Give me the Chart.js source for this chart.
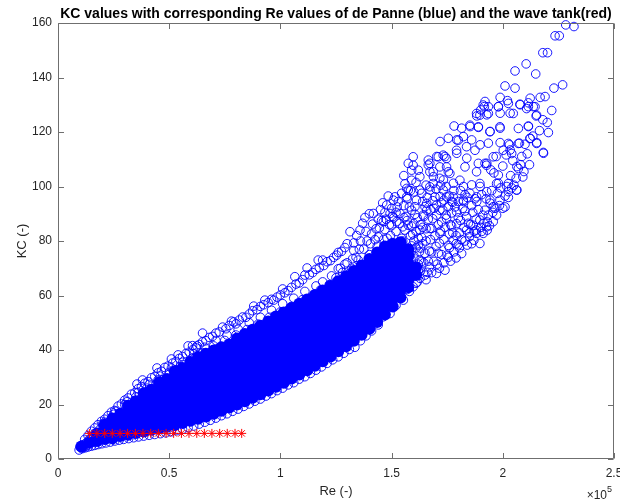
<!DOCTYPE html>
<html>
<head>
<meta charset="utf-8">
<script src="https://cdn.jsdelivr.net/npm/chart.js@4.4.1/dist/chart.umd.min.js"></script>
<style>
html,body{margin:0;padding:0;background:#fff;}
#wrap{width:620px;height:501px;}
</style>
</head>
<body>
<div id="wrap"><canvas id="c" width="620" height="501"></canvas></div>
<script>
// ---- Data (Re in units of 1e5, KC dimensionless) ----
const xTickValues = [0, 0.5, 1, 1.5, 2, 2.5];
const xTickLabels = ['0', '0.5', '1', '1.5', '2', '2.5'];
const yTickValues = [0, 20, 40, 60, 80, 100, 120, 140, 160];
const yTickLabels = ['0', '20', '40', '60', '80', '100', '120', '140', '160'];

// wave tank (red stars)
const tankRe = [0.141, 0.175, 0.210, 0.244, 0.279, 0.313, 0.348, 0.382, 0.417, 0.451, 0.486,
                0.520, 0.555, 0.589, 0.624, 0.658, 0.692, 0.727, 0.761, 0.796, 0.826];
const tankKC = [9.4, 9.4, 9.4, 9.4, 9.4, 9.4, 9.4, 9.4, 9.4, 9.4, 9.4,
                9.4, 9.4, 9.4, 9.4, 9.4, 9.4, 9.4, 9.4, 9.4, 9.4];

// de Panne: dense (solid-looking) core of the cloud, per Re column: [Re, KC, KC, ...]
const panneCore = [
  [0.105, 4.6],
  [0.14, 6.1],
  [0.175, 6.6, 9.4],
  [0.21, 7.3, 10.6, 12.6],
  [0.245, 7.6, 10.2, 12.8, 14.9],
  [0.28, 8.4, 11.1, 13.9, 16.6],
  [0.315, 8.9, 11.9, 14.6, 17.2, 19.5],
  [0.35, 9.5, 12.4, 15.3, 18.2, 21.2],
  [0.385, 10.1, 13.0, 15.9, 18.8, 21.6, 24.0],
  [0.42, 10.7, 13.6, 16.6, 19.6, 22.5, 25.4],
  [0.455, 11.2, 14.2, 17.1, 20.1, 23.0, 25.9, 28.1],
  [0.49, 11.8, 14.8, 17.8, 20.8, 23.7, 26.6, 29.4],
  [0.525, 12.5, 15.4, 18.4, 21.4, 24.3, 27.3, 30.2, 32.2],
  [0.56, 13.2, 16.1, 19.1, 22.1, 25.0, 28.0, 30.9, 33.4],
  [0.595, 14.0, 17.0, 19.9, 22.9, 25.8, 28.8, 31.7, 34.4, 35.6],
  [0.63, 14.8, 17.8, 20.7, 23.7, 26.6, 29.6, 32.5, 35.3, 37.4],
  [0.665, 15.6, 18.6, 21.6, 24.5, 27.5, 30.4, 33.4, 36.2, 38.6],
  [0.70, 16.6, 19.6, 22.5, 25.5, 28.4, 31.4, 34.3, 37.2, 39.8],
  [0.735, 17.7, 20.7, 23.6, 26.5, 29.5, 32.4, 35.4, 38.3, 41.0],
  [0.77, 18.9, 21.8, 24.7, 27.7, 30.6, 33.6, 36.5, 39.4, 42.0],
  [0.805, 20.0, 23.0, 25.9, 28.8, 31.8, 34.7, 37.7, 40.6, 43.2, 44.2],
  [0.84, 21.2, 24.2, 27.1, 30.0, 33.0, 35.9, 38.9, 41.8, 44.5, 45.9],
  [0.875, 22.5, 25.4, 28.4, 31.3, 34.2, 37.2, 40.1, 43.0, 45.8, 47.4],
  [0.91, 23.8, 26.7, 29.6, 32.6, 35.5, 38.4, 41.4, 44.3, 47.0, 48.9],
  [0.945, 25.1, 28.0, 31.0, 33.9, 36.9, 39.8, 42.7, 45.6, 48.4, 50.5],
  [0.98, 26.5, 29.4, 32.4, 35.3, 38.3, 41.2, 44.1, 47.0, 49.8, 52.3],
  [1.015, 28.0, 30.9, 33.9, 36.8, 39.7, 42.7, 45.6, 48.5, 51.3, 53.8],
  [1.05, 29.5, 32.4, 35.4, 38.3, 41.2, 44.2, 47.1, 50.0, 52.9, 55.4],
  [1.085, 31.0, 33.9, 36.9, 39.8, 42.8, 45.7, 48.6, 51.6, 54.5, 57.0],
  [1.12, 32.6, 35.5, 38.5, 41.4, 44.4, 47.3, 50.2, 53.2, 56.1, 58.5],
  [1.155, 34.2, 37.1, 40.1, 43.0, 46.0, 48.9, 51.8, 54.8, 57.7, 60.2],
  [1.19, 35.9, 38.8, 41.8, 44.7, 47.7, 50.6, 53.5, 56.5, 59.4, 61.8],
  [1.225, 37.6, 40.6, 43.5, 46.4, 49.4, 52.3, 55.3, 58.2, 61.1, 63.5],
  [1.26, 39.5, 42.4, 45.4, 48.3, 51.3, 54.2, 57.1, 60.1, 63.0, 65.2],
  [1.295, 41.4, 44.4, 47.3, 50.3, 53.2, 56.1, 59.1, 62.0, 64.9, 67.1],
  [1.33, 43.4, 46.4, 49.3, 52.3, 55.2, 58.1, 61.1, 64.0, 66.9, 69.0],
  [1.365, 45.6, 48.5, 51.5, 54.4, 57.4, 60.3, 63.2, 66.2, 69.0, 71.0],
  [1.40, 47.8, 50.8, 53.7, 56.7, 59.6, 62.6, 65.5, 68.4, 71.2, 73.4],
  [1.435, 50.3, 53.3, 56.2, 59.2, 62.1, 65.0, 68.0, 70.9, 73.6, 75.8],
  [1.47, 53.0, 56.0, 58.9, 61.9, 64.8, 67.7, 70.7, 73.6, 76.3, 78.0],
  [1.505, 56.0, 58.9, 61.9, 64.8, 67.8, 70.7, 73.6, 76.5, 79.0],
  [1.54, 59.3, 62.2, 65.2, 68.1, 71.0, 74.0, 76.9, 79.5],
  [1.575, 63.0, 65.9, 68.9, 71.8, 74.7, 77.0],
  [1.61, 67.5, 70.4]
];

// de Panne: individual circles along the lower edge of the cloud [Re, KC]
const panneLower = [
  [0.095,3.3],[0.108,3.8],[0.122,4.1],[0.135,4.4],[0.15,4.7],[0.165,5.0],[0.18,5.3],[0.197,5.6],
  [0.215,5.9],[0.235,6.2],[0.255,6.6],[0.275,6.9],[0.295,7.2],[0.318,7.5],[0.34,7.8],[0.362,8.1],
  [0.385,8.4],[0.41,8.7],[0.435,9.0],[0.46,9.3],[0.485,9.6],[0.51,10.0],[0.535,10.4],[0.56,10.9],
  [0.585,11.5],[0.61,12.1],[0.635,12.8],[0.66,13.5],[0.685,14.2],[0.71,15.0],[0.735,15.9],[0.76,16.6],
  [0.785,17.5],[0.81,18.3],[0.835,19.3],[0.86,20.2],[0.885,21.2],[0.91,22.0],[0.935,23.1],[0.96,24.0],
  [0.985,25.1],[1.01,26.0],[1.035,27.2],[1.06,28.0],[1.085,29.3],[1.11,30.2],[1.135,31.4],[1.16,32.6],
  [1.185,33.8],[1.21,35.1],[1.235,36.4],[1.26,37.5],[1.285,38.8],[1.31,40.2],[1.335,41.0],[1.36,43.4],
  [1.385,45.2],[1.41,47.0],[1.44,49.2],[1.463,52.2],[1.493,53.4],[1.52,56.4],[1.553,58.3],[1.58,61.5],
  [1.597,63.2],[1.628,66.3],[1.655,65.8],[1.68,68.4],[1.702,68.1],[1.74,69.3],[1.765,72.6],[1.79,73.8],
  [1.815,75.4],[1.84,78.5],[1.87,80.3],[1.897,79.1],[1.912,82.8],[1.94,85.6],[1.957,87.1],[1.972,89.5],
  [2.0,92.0],[2.025,96.0],[2.062,98.7],[2.09,103.5],[2.12,108.0],[2.152,115.8],[2.182,112.5],[2.205,119.8],
  [0.1,4.5],[0.11,5.2],[0.115,4.2],[0.125,5.8],[0.13,4.9],[0.14,7.0],[0.145,5.6],[0.155,8.2],
  [0.16,6.2],[0.17,7.5],[0.175,9.5],[0.185,6.8],[0.19,11.0],[0.2,8.9],[0.205,7.2],[0.215,12.2],
  [0.225,9.8],[0.23,13.6],[0.24,7.6],[0.25,11.5],[0.255,15.0],[0.265,13.2],[0.27,8.3],[0.28,16.5],
  [0.29,10.8],[0.3,14.6]
];

// de Panne: individual circles along the upper edge of the cloud [Re, KC]
const panneUpper = [
  [0.12,7.2],[0.135,8.6],[0.15,10.2],[0.165,11.4],[0.18,12.6],[0.195,13.8],[0.21,14.6],[0.225,15.9],
  [0.24,17.2],[0.255,17.8],[0.27,19.4],[0.285,20.2],[0.3,21.6],[0.315,22.4],[0.33,23.8],[0.345,24.3],
  [0.355,27.5],[0.36,25.8],[0.38,29.0],[0.375,26.6],[0.39,27.8],[0.405,28.4],[0.42,29.8],[0.435,30.3],
  [0.445,33.4],[0.45,31.6],[0.465,32.2],[0.48,33.6],[0.495,34.1],[0.51,36.7],[0.515,35.2],[0.53,35.8],
  [0.54,38.2],[0.545,36.9],[0.56,37.6],[0.575,38.7],[0.585,41.5],[0.59,39.2],[0.605,41.6],[0.607,40.2],
  [0.625,41.5],[0.62,40.8],[0.635,42.0],[0.65,46.2],[0.65,43.0],[0.665,43.4],[0.68,44.6],[0.695,45.0],
  [0.71,46.2],[0.725,46.6],[0.74,48.4],[0.755,47.8],[0.77,49.0],[0.78,50.6],[0.79,50.3],[0.8,49.6],
  [0.815,51.0],[0.83,52.1],[0.845,52.0],[0.86,53.2],[0.875,54.4],[0.88,56.1],[0.895,54.8],[0.91,56.0],
  [0.93,58.3],[0.925,56.6],[0.945,57.4],[0.96,58.6],[0.97,58.3],[0.985,59.4],[1.0,60.2],[1.01,62.4],
  [1.02,61.0],[1.035,61.8],[1.05,63.0],[1.065,66.9],[1.07,64.2],[1.085,64.6],[1.1,65.8],[1.11,67.5],
  [1.12,70.1],[1.13,67.6],[1.145,68.4],[1.16,69.6],[1.17,73.0],[1.19,73.0],[1.175,70.2],[1.195,71.0],
  [1.21,72.4],[1.225,72.8],[1.24,74.0],[1.253,74.8],[1.26,75.8],[1.275,76.2],[1.29,77.6],[1.3,79.0],
  [1.313,83.4],[1.33,79.3],[1.343,82.0],[1.358,84.0],[1.37,86.5],[1.38,88.6],[1.4,90.0],[1.418,90.1],
  [1.44,88.0],[1.463,87.1],[1.478,93.2],[1.493,90.1],[1.508,95.0],[1.515,96.2],[1.538,90.1],
  [1.40,75.0],[1.405,79.0],[1.41,82.6],[1.415,86.2],[1.43,74.5],[1.435,78.0],[1.44,81.5],[1.445,84.8],
  [1.46,77.0],[1.465,80.6],[1.47,84.2],[1.475,88.0],[1.49,78.4],[1.495,82.0],[1.5,85.6],[1.505,89.0],
  [1.35,73.0],[1.355,77.0],[1.36,80.0],[1.32,70.0],[1.325,73.5],[1.33,76.5],[1.28,68.5],[1.29,71.5],
  [1.25,66.5],[1.26,69.8],[1.22,64.0],[1.23,67.2],[1.18,62.0],[1.19,65.0],[1.15,60.0],[1.16,63.5],
  [1.1,58.5],[1.11,61.5],[1.05,56.0],[1.06,59.0],[1.0,54.0],[1.01,57.0],[0.95,52.0],[0.96,54.6],
  [0.9,49.5],[0.91,52.0],[0.85,47.5],[0.86,50.0],[0.8,45.5],[0.81,47.6],[0.75,43.5],[0.76,45.5],
  [0.7,41.5],[0.71,43.5],[0.65,39.0],[0.66,41.0],[0.6,36.8],[0.61,38.6],[0.55,34.0],[0.56,35.5],
  [0.5,31.8],[0.51,33.4],[0.45,29.0],[0.46,30.4],[0.4,26.0],[0.41,27.4],[0.35,22.8],[0.36,24.4],
  [0.3,20.0],[0.31,21.0],[0.25,16.4],[0.26,17.5],[0.2,12.8],[0.21,13.5],
  [1.52,83.5],[1.535,86.5],[1.55,80.0],[1.56,84.0],[1.57,87.5],[1.585,82.0],[1.59,85.5],[1.6,80.0],
  [1.61,83.5],[1.62,81.0],[1.625,76.0],[1.635,72.5],[1.64,79.0],[1.61,77.5],[1.6,74.5],[1.62,71.5],
  [1.595,70.5],[1.65,75.5],[1.655,84.5],[1.48,81.0],[1.49,86.0],[1.51,88.5],[1.525,92.5],[1.47,90.5],
  [1.455,87.5],[1.43,84.5],[1.425,80.5],[1.39,80.0],[1.385,83.5],[1.375,77.0],[1.34,74.0],[1.3,72.0],
  [1.27,70.0],[1.57,95.5],[1.585,98.5],[1.56,101.0],[1.555,104.0],[1.575,108.5]
];

// de Panne: the spread-out part of the cloud at high Re [Re, KC]
const panneSpread = [
  [1.52,60.5],[1.525,64.8],[1.53,69.0],[1.535,73.2],[1.54,77.5],[1.545,81.0],[1.55,85.2],[1.556,88.6],
  [1.57,62.2],[1.575,66.0],[1.58,70.3],[1.585,74.6],[1.59,78.2],[1.595,82.5],[1.60,86.4],[1.605,89.8],
  [1.615,64.9],[1.62,69.2],[1.625,73.0],[1.63,77.4],[1.635,81.3],[1.64,85.0],[1.645,89.0],[1.65,92.6],
  [1.66,68.5],[1.665,72.6],[1.67,76.3],[1.675,80.5],[1.68,84.6],[1.685,88.2],[1.69,92.0],
  [1.705,71.5],[1.71,75.5],[1.715,79.2],[1.72,83.6],[1.725,87.0],[1.73,91.4],[1.735,95.0],
  [1.75,74.8],[1.755,78.4],[1.76,82.6],[1.765,86.0],[1.77,90.3],[1.775,94.2],[1.78,98.5],
  [1.80,78.6],[1.805,83.0],[1.81,87.5],[1.82,92.0],[1.83,97.0],
  [1.85,81.6],[1.855,86.0],[1.865,90.5],[1.875,95.5],[1.9,85.0],[1.91,89.5],[1.93,84.0],
  [1.45,91.5],[1.46,94.0],[1.485,96.5],[1.5,92.0],[1.52,90.5],[1.53,94.5],[1.545,97.5],[1.555,93.0],
  [1.565,89.0],[1.58,92.5],[1.6,98.0],[1.61,101.5],[1.62,106.0],[1.615,88.5],[1.64,94.5],[1.655,100.5],
  [1.66,96.0],[1.675,91.5],[1.685,94.8],[1.7,99.0],[1.71,86.0],[1.72,100.5],[1.725,94.0],[1.74,85.0],
  [1.745,100.0],[1.76,96.5],[1.77,85.5],[1.785,92.5],[1.79,82.0],[1.8,88.5],[1.81,98.5],[1.815,80.5],
  [1.83,91.0],[1.845,86.5],[1.86,93.0],[1.86,79.0],[1.87,83.5],[1.89,91.5],[1.905,97.0],[1.915,86.5],
  [1.925,95.5],[1.935,89.5],[1.95,98.5],[1.96,105.0],[1.965,92.0],[1.99,99.5],[2.0,107.5],[2.01,96.5],
  [2.035,104.0],[2.045,109.5],[2.05,100.5],[2.085,111.0],[2.1,115.5],[2.095,105.5],[1.62,78.5],[1.63,86.0],
  [1.645,72.0],[1.655,80.0],[1.665,88.0],[1.68,76.0],[1.695,82.0],[1.7,78.0],[1.725,75.0],[1.735,80.5],
  [1.745,89.5],[1.76,77.5],[1.775,83.0],[1.79,79.0],[1.8,94.5],[1.825,85.0],[1.84,96.0],[1.88,88.0],
  [1.6,70.0],[1.59,66.5],[1.61,64.5],[1.63,69.0],[1.65,67.5],[1.67,70.5],[1.69,72.5],[1.715,70.0],
  [1.735,72.0],[1.755,74.0],[1.78,76.0],[1.805,77.5],[1.83,80.0],[1.85,83.0],[1.88,84.0],[1.905,83.5],
  [1.93,87.0],[1.955,90.5],[1.985,93.0],[2.01,92.5],[2.04,99.5],[2.06,103.0],[2.08,108.0],[2.11,112.0],
  [2.135,118.5],[2.165,120.5],[2.18,124.5],[2.2,123.5],
  [2.283,159.3],[2.32,158.7],[2.235,155.3],[2.254,155.3],[2.18,149.1],[2.201,149.1],[2.105,145.0],[2.055,142.4],
  [2.148,141.3],[2.269,137.3],[2.23,136.1],[2.01,136.9],[2.055,136.1],[1.988,132.7],[2.021,131.5],[1.92,131.2],
  [1.917,129.3],[1.935,129.3],[1.901,128.1],[1.928,126.3],[1.883,125.9],[2.123,132.4],[2.168,132.7],[2.19,133.0],
  [2.115,129.3],[2.145,129.3],[2.22,127.9],[2.15,125.9],[2.078,130.0],[2.033,126.9],[1.98,129.3],[1.988,126.9],
  [2.025,130.5],[2.077,130.2],[2.115,130.7],[2.137,129.3],[2.152,126.2],[2.107,128.6],[2.047,126.8],[1.882,126.8],
  [1.897,126.2],[1.912,129.9],[1.935,126.8],
  [1.781,122.2],[1.815,121.4],[1.853,122.0],[1.89,121.7],[1.943,120.2],[1.988,121.4],[2.07,121.3],[2.115,122.0],
  [2.123,117.7],[2.153,116.1],[2.183,112.2],[2.075,115.9],[2.03,115.3],[2.015,111.6],[2.033,113.4],[1.97,111.0],
  [1.988,116.1],[1.935,115.9],[1.898,115.3],[1.86,117.1],[1.823,118.3],[1.793,117.1],[1.755,117.7],[1.718,116.5],
  [1.74,111.0],[1.703,111.0],[1.665,107.9],[1.793,112.2],[1.838,110.4],[1.89,108.5],[1.928,108.5],[1.946,106.1],
  [2.063,107.3],[1.98,101.2],[2.018,100.0],[2.063,98.7],[2.025,98.1],[1.976,97.5],[1.928,98.1],[1.898,100.0],
  [1.86,100.6],[1.823,100.0],[1.778,101.2],[1.733,102.4],[1.688,103.6],[1.673,98.7],[1.718,96.3],[1.77,94.5],
  [1.823,94.5],[1.883,94.5],[1.943,93.9],
  [2.002,113.3],[1.957,110.9],[1.92,108.5],[1.875,113.3],[1.837,114.6],[1.8,117.0],[1.792,113.3],[1.747,110.3],
  [1.71,110.9],[1.672,108.5],[1.597,110.9],[1.597,107.8],[1.59,106.0],[1.83,107.2],[1.882,105.4],[1.927,107.8],
  [1.98,104.2],[2.07,106.6],[2.025,101.1],[1.972,101.1],[1.897,101.1],[1.852,97.5],[1.807,102.3],[1.762,104.8],
  [1.717,103.0],[1.672,105.4],[1.627,103.6],[1.575,98.7],[1.627,98.7],[1.687,101.1],[1.732,98.7],[1.777,96.2],
  [1.822,95.0],[1.882,96.2],[1.942,95.0],[1.987,95.0],[1.957,92.6],[1.92,91.3],[1.897,87.7],[1.927,85.2],
  [1.867,85.8],[1.837,88.9],[1.792,90.7],[1.755,92.6],[1.702,93.2],[1.658,93.8],[1.612,95.0],[1.568,96.2],
  [1.59,91.3],[1.642,89.5],[1.702,89.5],[1.747,88.3],[1.792,86.4],[1.837,84.0],[1.882,82.8],
  [1.777,80.3],[1.717,82.8],[1.672,84.6],[1.627,84.0],[1.575,85.8],[1.523,87.1],
  [1.665,109.7],[1.732,111.5],[1.717,107.2],[1.747,107.2],[1.755,105.4],[1.687,105.4],[1.568,99.3],
  [1.672,99.9],[1.635,97.5],[1.695,96.2],[1.747,96.2],[1.605,92.6],[1.658,91.3],[1.717,91.3],[1.59,102.3],
  [1.852,122.5],[1.89,121.9],[1.942,120.1],[1.987,121.9],[2.115,122.2],[2.122,117.6],[2.07,115.8],[2.025,115.8],
  [2.04,112.1],[1.98,129.3]
];

// ---- build the tables Chart.js needs ----
const tankData = tankRe.map((r, i) => ({ x: r, y: tankKC[i] }));
const coreData = [];
panneCore.forEach(col => { for (let k = 1; k < col.length; k++) coreData.push({ x: col[0], y: col[k] }); });
const ringData = panneLower.concat(panneUpper, panneSpread).map(p => ({ x: p[0], y: p[1] }));

const FONT = '"Liberation Sans", Arial, Helvetica, sans-serif';
const TXT = '#262626';
const AX = '#6f6f6f';

const framePlugin = {
  id: 'frame',
  afterDraw(chart) {
    const { ctx, chartArea: a, scales } = chart;
    const xs = scales.x, ys = scales.y;
    const L = Math.round(a.left) + 0.5, R = Math.round(a.right) - 0.5;
    const T = Math.round(a.top) + 0.5, B = Math.round(a.bottom) - 0.5;
    ctx.save();
    ctx.strokeStyle = AX;
    ctx.lineWidth = 1;
    ctx.beginPath();
    ctx.rect(L, T, R - L, B - T);
    const tl = 5.5;
    xTickValues.forEach(v => {
      const px = Math.round(xs.getPixelForValue(v)) + 0.5;
      ctx.moveTo(px, B); ctx.lineTo(px, B - tl);
      ctx.moveTo(px, T); ctx.lineTo(px, T + tl);
    });
    yTickValues.forEach(v => {
      const py = Math.round(ys.getPixelForValue(v)) + 0.5;
      ctx.moveTo(L, py); ctx.lineTo(L + tl, py);
      ctx.moveTo(R, py); ctx.lineTo(R - tl, py);
    });
    ctx.stroke();

    // title
    ctx.fillStyle = '#000';
    ctx.font = 'bold 14px ' + FONT;
    ctx.textAlign = 'center';
    ctx.textBaseline = 'alphabetic';
    ctx.fillText('KC values with corresponding Re values of de Panne (blue) and the wave tank(red)', (a.left + a.right) / 2, 18);

    // axis titles
    ctx.fillStyle = TXT;
    ctx.font = '13px ' + FONT;
    ctx.fillText('Re (-)', (a.left + a.right) / 2, 495);
    ctx.save();
    ctx.translate(26, (a.top + a.bottom) / 2);
    ctx.rotate(-Math.PI / 2);
    ctx.fillText('KC (-)', 0, 0);
    ctx.restore();

    // exponent label
    ctx.textAlign = 'right';
    ctx.font = '12px ' + FONT;
    ctx.fillText('\u00d710', 607, 499);
    ctx.textAlign = 'left';
    ctx.font = '9px ' + FONT;
    ctx.fillText('5', 607, 492);
    ctx.restore();
  }
};

new Chart(document.getElementById('c'), {
  type: 'scatter',
  data: {
    datasets: [
      { label: 'wave tank', data: tankData, pointStyle: 'star', pointRadius: 4.5,
        borderColor: '#ff0000', backgroundColor: '#ff0000', borderWidth: 1, order: 0, clip: false },
      { label: 'de Panne', data: ringData, pointStyle: 'circle', pointRadius: 4.3,
        borderColor: 'rgba(0,0,255,0.9)', backgroundColor: 'rgba(0,0,0,0)', borderWidth: 1, order: 1, clip: false },
      { label: 'de Panne (dense)', data: coreData, pointStyle: 'circle', pointRadius: 6,
        borderColor: '#0000ff', backgroundColor: '#0000ff', borderWidth: 0, order: 2, clip: false }
    ]
  },
  options: {
    responsive: false,
    animation: false,
    devicePixelRatio: 1,
    events: [],
    layout: { padding: { top: 23, right: 6, left: 0, bottom: 0 } },
    plugins: { legend: { display: false }, tooltip: { enabled: false }, title: { display: false } },
    scales: {
      x: {
        type: 'linear', min: 0, max: 2.5,
        afterBuildTicks(s) { s.ticks = xTickValues.map(v => ({ value: v })); },
        ticks: { color: TXT, padding: 7, font: { family: FONT, size: 12 }, maxRotation: 0,
          callback: (v) => { const i = xTickValues.indexOf(v); return i >= 0 ? xTickLabels[i] : ''; } },
        grid: { display: false, drawTicks: false },
        border: { display: false },
        afterFit(s) { s.height = 42; s.paddingLeft = 0; s.paddingRight = 0; }
      },
      y: {
        type: 'linear', min: 0, max: 160,
        afterBuildTicks(s) { s.ticks = yTickValues.map(v => ({ value: v })); },
        ticks: { color: TXT, padding: 6, font: { family: FONT, size: 12 },
          callback: (v) => { const i = yTickValues.indexOf(v); return i >= 0 ? yTickLabels[i] : ''; } },
        grid: { display: false, drawTicks: false },
        border: { display: false },
        afterFit(s) { s.width = 58; s.paddingTop = 0; s.paddingBottom = 0; }
      }
    }
  },
  plugins: [framePlugin]
});
</script>
</body>
</html>
